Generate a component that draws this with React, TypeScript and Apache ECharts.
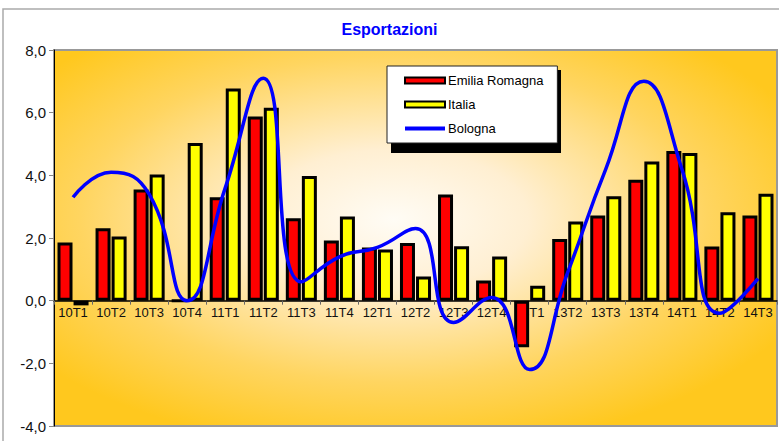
import React, { useEffect, useRef } from "react";
import * as echarts from "echarts";

const categories = ["10T1","10T2","10T3","10T4","11T1","11T2","11T3","11T4","12T1","12T2","12T3","12T4","13T1","13T2","13T3","13T4","14T1","14T2","14T3"];
const emiliaRomagna = [1.86, 2.31, 3.55, 0.0, 3.3, 5.88, 2.63, 1.92, 1.7, 1.84, 3.39, 0.64, -1.49, 1.97, 2.72, 3.86, 4.78, 1.73, 2.72];
const italia = [-0.15, 2.05, 4.03, 5.03, 6.77, 6.16, 3.98, 2.69, 1.63, 0.77, 1.74, 1.41, 0.48, 2.53, 3.33, 4.44, 4.71, 2.82, 3.41];
const bologna = [3.3, 4.1, 3.4, 0.0, 3.6, 7.1, 0.6, 1.4, 1.7, 2.3, -0.7, 0.1, -2.2, 0.9, 4.2, 7.0, 4.2, -0.4, 0.7];
const yTicks = { min: -4, max: 8, interval: 2 };

const FONT = "Arial, 'Liberation Sans', sans-serif";

const GRID_TOP = 50;
const GRID_BOTTOM = 15;
const CHART_H = 441;

export default function App() {
  const ref = useRef<HTMLDivElement>(null);
  useEffect(() => {
    if (!ref.current) return;
    const chart = echarts.init(ref.current, undefined, { renderer: "svg" });
    const gridH = CHART_H - GRID_TOP - GRID_BOTTOM;
    const zeroOffset = -((0 - yTicks.min) / (yTicks.max - yTicks.min)) * gridH;
    chart.setOption({
      animation: false,
      backgroundColor: "#ffffff",
      title: {
        text: "Esportazioni",
        left: "center",
        top: 21,
        padding: 0,
        textStyle: { color: "#0000FF", fontSize: 16, fontWeight: "bold", fontFamily: FONT },
      },
      graphic: [
        {
          type: "rect",
          z: 0,
          shape: { x: 3, y: 9, width: 800, height: 500 },
          style: { fill: "none", stroke: "#aaaaaa", lineWidth: 1.5 },
        },
        {
          type: "rect",
          z: 3,
          shape: { x: 391, y: 70, width: 170, height: 83 },
          style: { fill: "#000000" },
        },
      ],
      legend: {
        orient: "vertical",
        left: 387,
        top: 66,
        z: 10,
        backgroundColor: "#ffffff",
        borderColor: "#222222",
        borderWidth: 1,
        padding: [8, 14, 8, 16],
        itemGap: 11,
        itemWidth: 40,
        itemHeight: 6,
        textStyle: { fontSize: 13, fontFamily: FONT, color: "#000", padding: [0, 0, 0, -2] },
        data: [
          { name: "Emilia Romagna", icon: "rect" },
          { name: "Italia", icon: "rect" },
          { name: "Bologna", itemStyle: { opacity: 0 }, lineStyle: { width: 4, color: "#0000FF" } },
        ],
      },
      grid: {
        left: 54,
        right: 2,
        top: GRID_TOP,
        bottom: GRID_BOTTOM,
        show: true,
        borderColor: "#999999",
        borderWidth: 2,
        backgroundColor: new echarts.graphic.RadialGradient(0.47, 0.45, 0.62, [
          { offset: 0, color: "#FFFCF5" },
          { offset: 0.3, color: "#FFEFD2" },
          { offset: 0.7, color: "#FFD560" },
          { offset: 1, color: "#FFC81E" },
        ]),
      },
      xAxis: {
        type: "category",
        data: categories,
        position: "bottom",
        offset: zeroOffset,
        axisLine: { onZero: false, lineStyle: { color: "#000", width: 1.5 } },
        axisTick: { show: true, length: 4, lineStyle: { color: "#666" } },
        axisLabel: { fontSize: 13, fontFamily: FONT, color: "#111", margin: 5, interval: 0 },
        splitLine: { show: false },
      },
      yAxis: {
        type: "value",
        min: yTicks.min,
        max: yTicks.max,
        interval: yTicks.interval,
        axisLine: { show: true, lineStyle: { color: "#000", width: 1 } },
        axisTick: { show: true, length: 5, lineStyle: { color: "#888" } },
        axisLabel: {
          fontSize: 15,
          fontFamily: FONT,
          color: "#111",
          margin: 8,
          formatter: (v: number) => v.toFixed(1).replace(".", ","),
        },
        splitLine: { show: false },
      },
      series: [
        {
          name: "Emilia Romagna",
          type: "bar",
          data: emiliaRomagna,
          barWidth: 15,
          barGap: "7%",
          itemStyle: { color: "#FF0000", borderColor: "#000", borderWidth: 3 },
          z: 2,
        },
        {
          name: "Italia",
          type: "bar",
          data: italia,
          barWidth: 15,
          barGap: "7%",
          itemStyle: { color: "#FFFF00", borderColor: "#000", borderWidth: 3 },
          z: 2,
        },
        {
          name: "Bologna",
          type: "line",
          data: bologna,
          smooth: 0.5,
          symbol: "none",
          lineStyle: { color: "#0000FF", width: 3.5 },
          itemStyle: { color: "#0000FF" },
          z: 3,
        },
      ],
    });
    return () => chart.dispose();
  }, []);
  return <div ref={ref} style={{ width: 779, height: 441, position: "absolute", left: 0, top: 0 }} />;
}
